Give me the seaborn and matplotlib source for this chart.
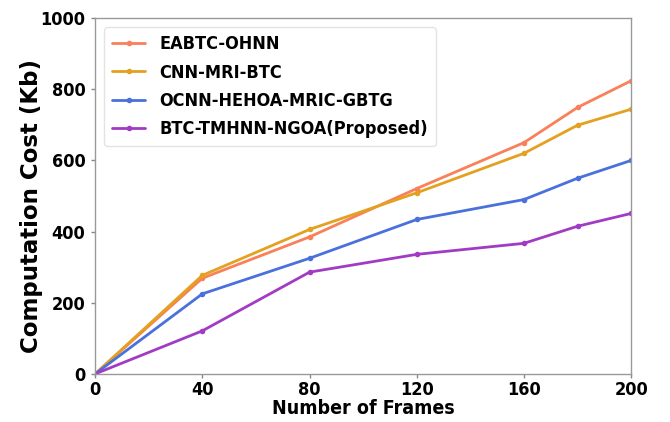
import matplotlib
matplotlib.use("Agg")
import matplotlib.pyplot as plt
import seaborn as sns
import pandas as pd

frames = [0, 40, 80, 120, 160, 180, 200]
eabtc_ohnn = [0, 269, 385, 521, 650, 749, 824]
cnn_mri_btc = [0, 277, 406, 509, 620, 699, 744]
ocnn_hehoa = [0, 225, 325, 434, 490, 550, 600]
btc_tmhnn = [0, 121, 286, 336, 367, 415, 451]

series_names = ["EABTC-OHNN", "CNN-MRI-BTC", "OCNN-HEHOA-MRIC-GBTG",
                "BTC-TMHNN-NGOA(Proposed)"]
series_values = [eabtc_ohnn, cnn_mri_btc, ocnn_hehoa, btc_tmhnn]
colors = ["#F98058", "#E3A11F", "#4A70DC", "#A23BC4"]

rows = []
for name, vals in zip(series_names, series_values):
    for f, v in zip(frames, vals):
        rows.append({"Frames": f, "Cost": v, "Method": name})
df = pd.DataFrame(rows)

sns.set_style("ticks")
plt.rcParams["font.family"] = ["DejaVu Sans"]
plt.rcParams["font.weight"] = "bold"
plt.rcParams["font.stretch"] = "condensed"
plt.rcParams["text.color"] = "black"
plt.rcParams["axes.labelcolor"] = "black"
plt.rcParams["xtick.color"] = "black"
plt.rcParams["ytick.color"] = "black"

fig = plt.figure(figsize=(6.7, 4.22), dpi=100)
ax = fig.add_axes([0.142, 0.114, 0.80, 0.843])

sns.lineplot(data=df, x="Frames", y="Cost", hue="Method",
             hue_order=series_names, palette=colors, marker="o",
             markersize=4, markeredgewidth=0, linewidth=2, ax=ax)

ax.set_xlim(0, 200)
ax.set_ylim(0, 1000)
ax.set_xticks([0, 40, 80, 120, 160, 200])
ax.set_yticks([0, 200, 400, 600, 800, 1000])
ax.tick_params(labelsize=13, length=3, width=1, color="#888888",
               labelcolor="black")
ax.tick_params(axis="x", pad=2)
ax.tick_params(axis="y", pad=4)
for lbl in ax.get_xticklabels() + ax.get_yticklabels():
    lbl.set_fontweight("bold")
ax.set_xlabel("Number of Frames", fontsize=14, fontweight="bold", labelpad=0)
ax.set_ylabel("Computation Cost (Kb)", fontsize=16.5, fontweight="bold",
              fontstretch="normal")
ax.yaxis.set_label_coords(-0.097, 0.472)
for sp in ax.spines.values():
    sp.set_color("#999999")
    sp.set_linewidth(1)

leg = ax.legend(loc="upper left", frameon=True,
                prop={"weight": "bold", "size": 13, "stretch": "condensed"},
                handlelength=1.8, handletextpad=0.8, borderpad=0.45,
                labelspacing=0.57)
leg.get_frame().set_edgecolor("#dddddd")
for t in leg.get_texts():
    t.set_color("black")

fig.savefig("out.png", dpi=100)
